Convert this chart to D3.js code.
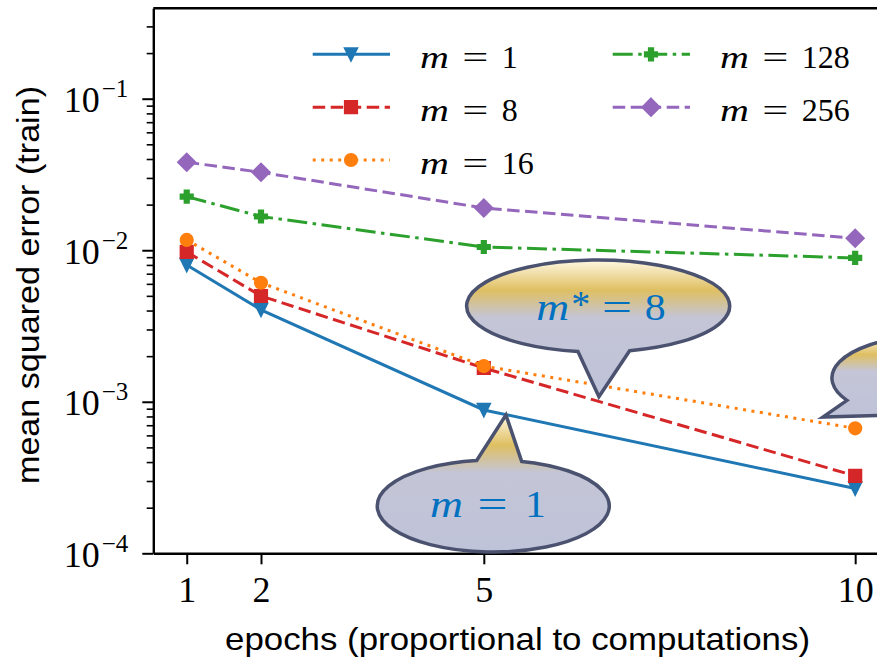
<!DOCTYPE html>
<html>
<head>
<meta charset="utf-8">
<script src="https://cdn.jsdelivr.net/npm/d3@7"></script>
<style>
  body { margin: 0; background: #fff; }
  svg { display: block; }
</style>
</head>
<body>
<svg id="chart" width="877" height="660"></svg>
<script>
const epochs = [1, 2, 5, 10];
const batchSizes = ['1', '8', '16', '128', '256'];

const mseM1   = [0.0080, 0.00404, 0.000883, 0.000268];
const mseM8   = [0.00975, 0.00499, 0.00167, 0.000324];
const mseM16  = [0.0117, 0.0061, 0.00172, 0.000668];
const mseM128 = [0.0226, 0.0167, 0.0105, 0.0089];
const mseM256 = [0.0381, 0.0327, 0.0190, 0.0120];

const xTickLabels = ['1', '2', '5', '10'];
const yMajorTicks = [1e-4, 1e-3, 1e-2, 1e-1];
const yTickExponents = ['\u22124', '\u22123', '\u22122', '\u22121'];

const seriesValues = [mseM1, mseM8, mseM16, mseM128, mseM256];
const seriesColors = ['#1f77b4', '#d62728', '#ff7f0e', '#2ca02c', '#9467bd'];
const seriesDashes = [null, '12.5,5.5', '3,5.5', '20,5.5,3.5,5.5', '12.5,5.5'];
const seriesMarkers = ['triangleDown', 'square', 'circle', 'plus', 'diamond'];

const series = batchSizes.map((m, i) => ({
  m,
  points: epochs.map((e, j) => [e, seriesValues[i][j]]),
  color : seriesColors[i],
  dash  : seriesDashes[i],
  marker: seriesMarkers[i]
}));

const plot = {left: 153.3, right: 888.6, top: 8.3, bottom: 553.3};

const x = d3.scaleLinear()
  .domain([0.55, 10.45])
  .range([plot.left, plot.right]);

const y = d3.scaleLog()
  .domain([1e-4, 0.395])
  .range([plot.bottom, plot.top]);

const svg = d3.select('#chart');

const serif = "'Liberation Serif', 'DejaVu Serif', serif";
const sans  = "'Liberation Sans', 'DejaVu Sans', sans-serif";

function markerPath(type, s) {
  const h = s / 2;
  const a = s / 6;
  const d = h * Math.SQRT2;
  switch (type) {
    case 'triangleDown':
      return `M0,${h}L${-h},${-h}L${h},${-h}Z`;
    case 'square':
      return `M${-h},${-h}H${h}V${h}H${-h}Z`;
    case 'circle':
      return d3.symbol(d3.symbolCircle, Math.PI * h * h)();
    case 'plus':
      return `M${-a},${-h}H${a}V${-a}H${h}V${a}H${a}V${h}H${-a}V${a}H${-h}V${-a}H${-a}Z`;
    case 'diamond':
      return `M0,${-d}L${d},0L0,${d}L${-d},0Z`;
  }
}

// math glyphs are wider in the original font, stretch them a bit
function mathGlyph(parent, text, px, py, opts) {
  const sx = opts.stretch || 1;
  return parent.append('text')
    .attr('transform', `translate(${px},${py}) scale(${sx},1)`)
    .attr('text-anchor', opts.anchor || 'start')
    .attr('font-style', opts.italic ? 'italic' : 'normal')
    .text(text);
}

function drawAxes() {
  const minorTicks = [];
  for (let k = -4; k <= -1; k++) {
    for (let j = 2; j <= 9; j++) {
      const v = j * Math.pow(10, k);
      if (v <= y.domain()[1]) minorTicks.push(v);
    }
  }

  const yMinor = svg.append('g')
    .attr('transform', `translate(${plot.left},0)`)
    .call(d3.axisLeft(y).tickValues(minorTicks).tickSize(6.6).tickSizeOuter(0).tickFormat(''));
  yMinor.select('.domain').remove();
  yMinor.selectAll('.tick line').attr('stroke-width', 1.6);

  const yAxis = svg.append('g')
    .attr('transform', `translate(${plot.left},0)`)
    .call(d3.axisLeft(y).tickValues(yMajorTicks).tickSize(11).tickPadding(14).tickSizeOuter(0));

  yAxis.attr('font-family', serif).attr('font-size', 36);
  yAxis.select('.domain').attr('stroke-width', 2.4);
  yAxis.selectAll('.tick line').attr('stroke-width', 2);
  yAxis.selectAll('.tick text')
    .attr('dy', '13px')
    .each(function (d, i) {
      const t = d3.select(this).text(null);
      t.append('tspan').text('10');
      t.append('tspan')
        .attr('dy', -15)
        .attr('dx', 2)
        .attr('font-size', 25)
        .text(yTickExponents[i]);
    });

  const xAxis = svg.append('g')
    .attr('transform', `translate(0,${plot.bottom})`)
    .call(d3.axisBottom(x).tickValues(epochs).tickSize(11).tickPadding(12).tickSizeOuter(0)
      .tickFormat((d, i) => xTickLabels[i]));

  xAxis.attr('font-family', serif).attr('font-size', 36);
  xAxis.select('.domain').attr('stroke-width', 2.4);
  xAxis.selectAll('.tick line').attr('stroke-width', 2);

  // top spine, right one falls outside the picture
  svg.append('line')
    .attr('x1', plot.left)
    .attr('x2', plot.right)
    .attr('y1', plot.top)
    .attr('y2', plot.top)
    .attr('stroke', '#000')
    .attr('stroke-width', 2.4);

  svg.append('text')
    .attr('x', 517.5)
    .attr('y', 650)
    .attr('text-anchor', 'middle')
    .attr('font-family', sans)
    .attr('font-size', 32)
    .attr('textLength', 585)
    .attr('lengthAdjust', 'spacingAndGlyphs')
    .text('epochs (proportional to computations)');

  svg.append('text')
    .attr('transform', 'translate(39,285) rotate(-90)')
    .attr('text-anchor', 'middle')
    .attr('font-family', sans)
    .attr('font-size', 32)
    .attr('textLength', 398)
    .attr('lengthAdjust', 'spacingAndGlyphs')
    .text('mean squared error (train)');
}

function drawSeries() {
  const line = d3.line()
    .x(d => x(d[0]))
    .y(d => y(d[1]));

  series.forEach(s => {
    const g = svg.append('g');

    g.append('path')
      .datum(s.points)
      .attr('d', line)
      .attr('fill', 'none')
      .attr('stroke', s.color)
      .attr('stroke-width', 3)
      .attr('stroke-dasharray', s.dash);

    g.selectAll('path.marker')
      .data(s.points)
      .enter()
      .append('path')
      .attr('class', 'marker')
      .attr('transform', d => `translate(${x(d[0])},${y(d[1])})`)
      .attr('d', markerPath(s.marker, 12))
      .attr('fill', s.color)
      .attr('stroke', s.color)
      .attr('stroke-width', 2.2)
      .attr('stroke-linejoin', 'miter');
  });
}

function drawLegend() {
  const legend = svg.append('g').attr('class', 'legend');

  series.forEach((s, i) => {
    const col = Math.floor(i / 3);
    const row = i % 3;
    const x0  = 312.7 + col * 300;
    const y0  = 54.3 + row * 52.85;

    const entry = legend.append('g');

    entry.append('line')
      .attr('x1', x0)
      .attr('x2', x0 + 77.3)
      .attr('y1', y0)
      .attr('y2', y0)
      .attr('stroke', s.color)
      .attr('stroke-width', 3)
      .attr('stroke-dasharray', s.dash);

    entry.append('path')
      .attr('transform', `translate(${x0 + 38.3},${y0})`)
      .attr('d', markerPath(s.marker, 12))
      .attr('fill', s.color)
      .attr('stroke', s.color)
      .attr('stroke-width', 2.2);

    const label = entry.append('g')
      .attr('font-family', serif)
      .attr('font-size', 32)
      .attr('fill', '#000');

    mathGlyph(label, 'm', x0 + 107.3, y0 + 14, {italic: true, stretch: 1.25});
    mathGlyph(label, '=', x0 + 162.6, y0 + 14, {anchor: 'middle', stretch: 1.45});
    mathGlyph(label, s.m, x0 + 189, y0 + 14, {});
  });
}

function drawCallouts() {
  const callouts = [
    {
      tip   : [6.55, 0.00108],
      center: [-0.8, -90.7], rx: 131.5, ry: 46, base: [-20.2, 31.5], side: 1,
      baseline: -76.7,
      parts : [
        {text: 'm', x: -62.6, italic: true, stretch: 1.2},
        {text: '*', x: -27.6, dy: -3},
        {text: '=', x: 18, anchor: 'middle', stretch: 1.4},
        {text: '8', x: 45.7, stretch: 1.1}
      ]
    },
    {
      tip   : [5.298, 0.000818],
      center: [-12.7, 91], rx: 116, ry: 46, base: [-16.6, 28.4], side: -1,
      baseline: 101.7,
      parts : [
        {text: 'm', x: -76, italic: true, stretch: 1.2},
        {text: '=', x: -13.5, anchor: 'middle', stretch: 1.4},
        {text: '1', x: 19, stretch: 1.1}
      ]
    },
    {
      tip   : [9.566, 0.000793],
      center: [107, -39], rx: 98, ry: 42, base: [-83, -45], side: 1,
      baseline: 0,
      parts : []
    }
  ];

  const grad = svg.append('defs')
    .append('linearGradient')
    .attr('id', 'bubbleFill')
    .attr('x1', 0).attr('y1', 0)
    .attr('x2', 0).attr('y2', 1);

  [[0, '#fff8e2'], [0.22, '#dfbf62'], [0.42, '#c4c5d6'], [1, '#bfc3d9']].forEach(([o, c]) => {
    grad.append('stop').attr('offset', o).attr('stop-color', c);
  });

  callouts.forEach(c => {
    const tx = x(c.tip[0]);
    const ty = y(c.tip[1]);
    const cx = tx + c.center[0];
    const cy = ty + c.center[1];
    const onEllipse = dx => [cx + dx, cy + c.side * c.ry * Math.sqrt(1 - (dx / c.rx) ** 2)];
    const p1 = onEllipse(c.base[0]);
    const p2 = onEllipse(c.base[1]);
    const sweep = c.side === 1 ? 0 : 1;

    svg.append('path')
      .attr('d', `M${p1}L${tx},${ty}L${p2}A${c.rx},${c.ry} 0 1 ${sweep} ${p1}Z`)
      .attr('fill', 'url(#bubbleFill)')
      .attr('stroke', '#4b5270')
      .attr('stroke-width', 3.5)
      .attr('stroke-linejoin', 'miter');

    const label = svg.append('g')
      .attr('font-family', serif)
      .attr('font-size', 38)
      .attr('fill', '#0070c0');

    c.parts.forEach(p => {
      mathGlyph(label, p.text, tx + p.x, ty + c.baseline + (p.dy || 0), p);
    });
  });
}

function draw() {
  drawAxes();
  drawSeries();
  drawLegend();
  drawCallouts();
}

draw();
</script>
</body>
</html>
